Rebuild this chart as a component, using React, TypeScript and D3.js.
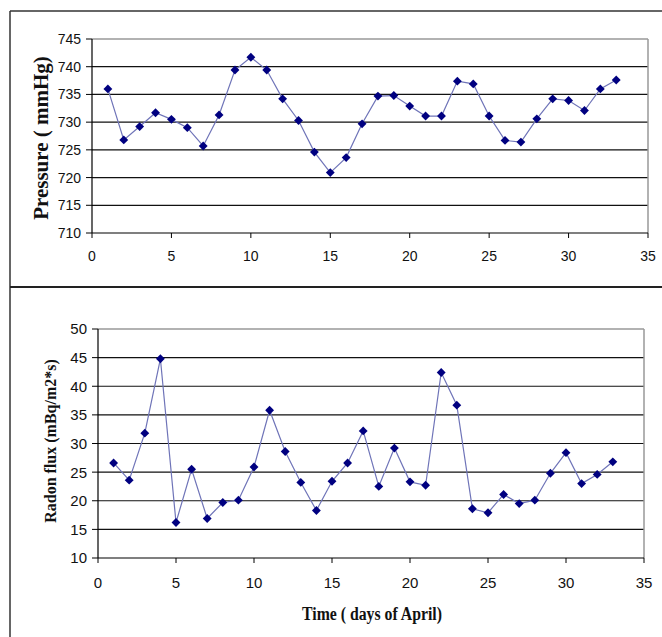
import React from "react";
import * as d3 from "d3";

const days = d3.range(1, 34);
const pressure = [736.0, 726.8, 729.2, 731.7, 730.5, 729.0, 725.7, 731.3, 739.4, 741.7, 739.4, 734.2, 730.3, 724.6, 720.9, 723.6, 729.7, 734.7, 734.8, 732.9, 731.1, 731.1, 737.4, 736.9, 731.1, 726.7, 726.4, 730.6, 734.2, 733.9, 732.1, 736.0, 737.6];
const radon = [26.6, 23.6, 31.8, 44.8, 16.2, 25.5, 16.9, 19.7, 20.1, 25.9, 35.8, 28.6, 23.2, 18.3, 23.4, 26.6, 32.2, 22.5, 29.2, 23.3, 22.7, 42.4, 36.7, 18.6, 17.9, 21.1, 19.5, 20.1, 24.8, 28.4, 23.0, 24.6, 26.8];
const xTicks = [0, 5, 10, 15, 20, 25, 30, 35];
const pressureTicks = [710, 715, 720, 725, 730, 735, 740, 745];
const radonTicks = [10, 15, 20, 25, 30, 35, 40, 45, 50];

const LINE = "#6f74b8";
const MARK = "#000080";

type PanelProps = {
  values: number[];
  yTicks: number[];
  x0: number; x1: number; y0: number; y1: number;
  tickFont: number;
  xLabelY: number;
  labelGap: number;
};

function Panel({ values, yTicks, x0, x1, y0, y1, tickFont, xLabelY, labelGap }: PanelProps) {
  const x = d3.scaleLinear().domain([0, 35]).range([x0, x1]);
  const y = d3.scaleLinear().domain([yTicks[0], yTicks[yTicks.length - 1]]).range([y1, y0]);
  const line = d3.line<number>().x((_, i) => x(days[i])).y((v) => y(v));
  const diamond = d3.symbol().type(d3.symbolDiamond2).size(50)();
  const top = yTicks[yTicks.length - 1];
  return (
    <g>
      {yTicks.filter((t) => t !== yTicks[0] && t !== top).map((t) => (
        <line key={t} x1={x0} x2={x1} y1={y(t)} y2={y(t)} stroke="#111" strokeWidth={1.2} />
      ))}
      <line x1={x0} x2={x1} y1={y(top)} y2={y(top)} stroke="#999" strokeWidth={1.5} />
      <line x1={x1} x2={x1} y1={y(top)} y2={y1} stroke="#999" strokeWidth={1.5} />
      <line x1={x0} x2={x0} y1={y(top)} y2={y1} stroke="#000" strokeWidth={1.2} />
      <line x1={x0} x2={x1} y1={y1} y2={y1} stroke="#000" strokeWidth={1.2} />
      {yTicks.map((t) => (
        <g key={t}>
          <line x1={x0 - 6} x2={x0} y1={y(t)} y2={y(t)} stroke="#000" strokeWidth={1} />
          <text x={x0 - labelGap} y={y(t)} dy="0.36em" textAnchor="end" fontFamily="'Liberation Sans', Arial, sans-serif" fontSize={tickFont} fill="#111">{t}</text>
        </g>
      ))}
      {xTicks.map((t) => (
        <g key={t}>
          <line x1={x(t)} x2={x(t)} y1={y1} y2={y1 + 5} stroke="#000" strokeWidth={1} />
          <text x={x(t)} y={xLabelY} textAnchor="middle" fontFamily="'Liberation Sans', Arial, sans-serif" fontSize={tickFont} fill="#111">{t}</text>
        </g>
      ))}
      <path d={line(values) || ""} fill="none" stroke={LINE} strokeWidth={1.2} />
      {values.map((v, i) => (
        <path key={i} d={diamond || ""} transform={`translate(${x(days[i])},${y(v)})`} fill={MARK} />
      ))}
    </g>
  );
}

export default function App() {
  return (
    <svg width={662} height={637} style={{ position: "absolute", left: 0, top: 0, background: "#fff" }}>
      <rect x={0} y={0} width={662} height={637} fill="#fff" />
      <line x1={10} x2={662} y1={11} y2={11} stroke="#333" strokeWidth={1.5} />
      <line x1={10} x2={10} y1={11} y2={637} stroke="#333" strokeWidth={1.5} />
      <line x1={10} x2={662} y1={287} y2={287} stroke="#222" strokeWidth={1.8} />

      <Panel values={pressure} yTicks={pressureTicks} x0={92} x1={648} y0={39} y1={233} tickFont={14} xLabelY={261} labelGap={11} />
      <text transform="translate(48,138) rotate(-90)" textAnchor="middle" fontFamily="'Liberation Serif', 'Times New Roman', serif" fontWeight="bold" fontSize={21} fill="#111">Pressure ( mmHg)</text>

      <Panel values={radon} yTicks={radonTicks} x0={98} x1={644} y0={329} y1={558} tickFont={15} xLabelY={588} labelGap={11} />
      <text transform="translate(56,441) rotate(-90)" textAnchor="middle" fontFamily="'Liberation Serif', 'Times New Roman', serif" fontWeight="bold" fontSize={16} fill="#111">Radon flux (mBq/m2*s)</text>
      <text x={372} y={620} textAnchor="middle" fontFamily="'Liberation Serif', 'Times New Roman', serif" fontWeight="bold" fontSize={18} textLength={140} lengthAdjust="spacingAndGlyphs" fill="#111">Time ( days of April)</text>
    </svg>
  );
}
